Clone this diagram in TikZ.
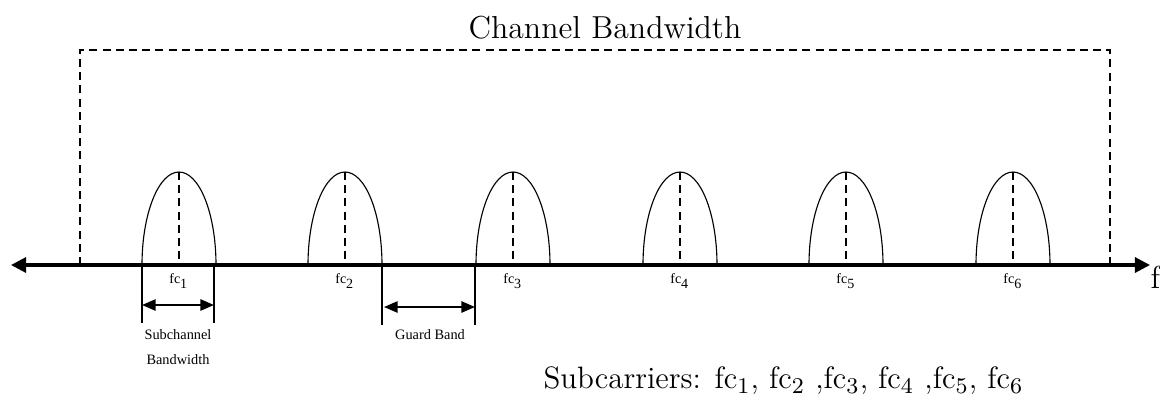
\documentclass[tikz,border=0pt]{standalone}
\usepackage{fontspec}
\newfontfamily\lblfont{Liberation Serif}
\usetikzlibrary{arrows.meta,positioning,calc}
\tikzset{
	axisln/.style={line width=1.1pt, {Triangle[length=1.9mm,width=1.9mm]}-{Triangle[length=1.9mm,width=1.9mm]}},
	dashln/.style={line width=0.8pt, dash pattern=on 1mm off 0.65mm},
	lobeln/.style={line width=0.4pt},
	tickln/.style={line width=0.45pt},
	spanln/.style={line width=0.7pt, {Triangle[length=1.7mm,width=1.4mm]}-{Triangle[length=1.7mm,width=1.4mm]}},
	fclbl/.style={font=\lblfont\fontsize{5}{6}\selectfont, inner sep=0pt},
	smalllbl/.style={font=\lblfont\fontsize{5.1}{8.9}\selectfont, inner sep=0pt, align=center},
	biglbl/.style={font=\fontsize{11.3}{13}\selectfont, inner sep=0pt},
}
\begin{document}
\begin{tikzpicture}[x=0.0125cm, y=-0.0125cm]
	\useasboundingbox (0,0) rectangle (1160,401);
	% frequency axis
	\coordinate (axL) at (11,265);
	\coordinate (axR) at (1150,265);
	\draw[axisln] (axL) -- (axR);
	\node[biglbl, anchor=west] at (1150,277) (flbl) {f};
	% channel bandwidth frame
	\coordinate (chL) at (80,265);
	\coordinate (chTL) at (80,50);
	\coordinate (chTR) at (1110,50);
	\coordinate (chR) at (1110,265);
	\draw[dashln] (chL) -- (chTL) -- (chTR) -- (chR);
	\node[biglbl] at (605,28) (chbw) {Channel Bandwidth};
	% subchannels
	\foreach \i/\x in {1/179,2/345,3/513,4/680,5/846,6/1013}{
		\coordinate (c\i) at (\x,265);
		\coordinate (t\i) at (\x,172);
		\draw[lobeln] ($(c\i)+(-37,0)$) arc[start angle=180, end angle=0, x radius=37, y radius=-93];
		\draw[dashln] (t\i) -- (c\i);
		\node[fclbl] at (\x,281) (fc\i) {fc\textsubscript{\i}};
	}
	% subchannel bandwidth
	\coordinate (sbL) at (142,265);
	\coordinate (sbR) at (214,265);
	\coordinate (sbLb) at (142,323);
	\coordinate (sbRb) at (214,323);
	\draw[tickln] (sbL) -- (sbLb);
	\draw[tickln] (sbR) -- (sbRb);
	\draw[spanln] (142,305) -- (214,305);
	\node[smalllbl, anchor=north] at (178,329) (sblbl) {Subchannel\\Bandwidth};
	% guard band
	\coordinate (gbL) at (382,265);
	\coordinate (gbR) at (475,265);
	\coordinate (gbLb) at (382,325);
	\coordinate (gbRb) at (475,325);
	\draw[tickln] (gbL) -- (gbLb);
	\draw[tickln] (gbR) -- (gbRb);
	\draw[spanln] (384,307) -- (475,307);
	\node[smalllbl] at (430,335) (gblbl) {Guard Band};
	% legend
	\node[font=\fontsize{11}{13}\selectfont, inner sep=0pt, anchor=west] at (543,381) (sclbl)
		{Subcarriers: fc$_1$, fc$_2$ ,fc$_3$, fc$_4$ ,fc$_5$, fc$_6$};
\end{tikzpicture}
\end{document}
